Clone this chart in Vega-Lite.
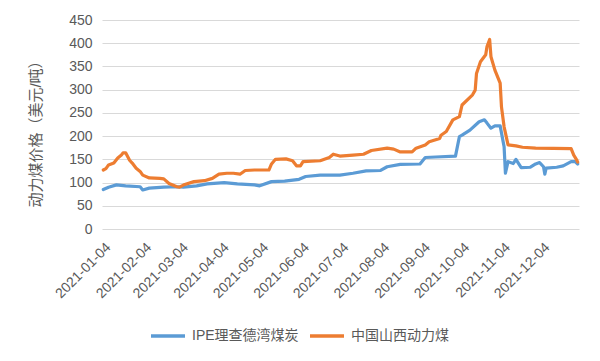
{
  "$schema": "https://vega.github.io/schema/vega-lite/v6.json",
  "width": 477,
  "height": 209,
  "autosize": {"type": "none"},
  "padding": {"left": 102, "top": 20, "right": 21, "bottom": 132},
  "background": "white",
  "config": {"view": {"stroke": null}, "font": "Liberation Sans, Noto Sans CJK SC"},
  "data": {"values": [
    {"date": "2021-01-04", "series": "IPE理查德湾煤炭", "price": 85},
    {"date": "2021-01-08", "series": "IPE理查德湾煤炭", "price": 90},
    {"date": "2021-01-14", "series": "IPE理查德湾煤炭", "price": 95},
    {"date": "2021-01-21", "series": "IPE理查德湾煤炭", "price": 93},
    {"date": "2021-02-01", "series": "IPE理查德湾煤炭", "price": 91},
    {"date": "2021-02-03", "series": "IPE理查德湾煤炭", "price": 84},
    {"date": "2021-02-08", "series": "IPE理查德湾煤炭", "price": 88},
    {"date": "2021-02-19", "series": "IPE理查德湾煤炭", "price": 90},
    {"date": "2021-03-01", "series": "IPE理查德湾煤炭", "price": 91},
    {"date": "2021-03-06", "series": "IPE理查德湾煤炭", "price": 90},
    {"date": "2021-03-16", "series": "IPE理查德湾煤炭", "price": 93},
    {"date": "2021-03-24", "series": "IPE理查德湾煤炭", "price": 97},
    {"date": "2021-04-06", "series": "IPE理查德湾煤炭", "price": 100},
    {"date": "2021-04-16", "series": "IPE理查德湾煤炭", "price": 97},
    {"date": "2021-04-29", "series": "IPE理查德湾煤炭", "price": 95},
    {"date": "2021-05-03", "series": "IPE理查德湾煤炭", "price": 93},
    {"date": "2021-05-12", "series": "IPE理查德湾煤炭", "price": 102},
    {"date": "2021-05-22", "series": "IPE理查德湾煤炭", "price": 103},
    {"date": "2021-06-02", "series": "IPE理查德湾煤炭", "price": 107},
    {"date": "2021-06-07", "series": "IPE理查德湾煤炭", "price": 113},
    {"date": "2021-06-18", "series": "IPE理查德湾煤炭", "price": 116},
    {"date": "2021-07-03", "series": "IPE理查德湾煤炭", "price": 116},
    {"date": "2021-07-13", "series": "IPE理查德湾煤炭", "price": 120},
    {"date": "2021-07-23", "series": "IPE理查德湾煤炭", "price": 125},
    {"date": "2021-08-03", "series": "IPE理查德湾煤炭", "price": 126},
    {"date": "2021-08-08", "series": "IPE理查德湾煤炭", "price": 134},
    {"date": "2021-08-18", "series": "IPE理查德湾煤炭", "price": 139},
    {"date": "2021-09-02", "series": "IPE理查德湾煤炭", "price": 140},
    {"date": "2021-09-06", "series": "IPE理查德湾煤炭", "price": 154},
    {"date": "2021-09-14", "series": "IPE理查德湾煤炭", "price": 155},
    {"date": "2021-09-29", "series": "IPE理查德湾煤炭", "price": 157},
    {"date": "2021-10-02", "series": "IPE理查德湾煤炭", "price": 199},
    {"date": "2021-10-04", "series": "IPE理查德湾煤炭", "price": 202},
    {"date": "2021-10-10", "series": "IPE理查德湾煤炭", "price": 213},
    {"date": "2021-10-17", "series": "IPE理查德湾煤炭", "price": 231},
    {"date": "2021-10-21", "series": "IPE理查德湾煤炭", "price": 235},
    {"date": "2021-10-23", "series": "IPE理查德湾煤炭", "price": 228},
    {"date": "2021-10-26", "series": "IPE理查德湾煤炭", "price": 217},
    {"date": "2021-10-29", "series": "IPE理查德湾煤炭", "price": 222},
    {"date": "2021-11-02", "series": "IPE理查德湾煤炭", "price": 222},
    {"date": "2021-11-05", "series": "IPE理查德湾煤炭", "price": 177},
    {"date": "2021-11-06", "series": "IPE理查德湾煤炭", "price": 120},
    {"date": "2021-11-08", "series": "IPE理查德湾煤炭", "price": 145},
    {"date": "2021-11-12", "series": "IPE理查德湾煤炭", "price": 141},
    {"date": "2021-11-14", "series": "IPE理查德湾煤炭", "price": 150},
    {"date": "2021-11-18", "series": "IPE理查德湾煤炭", "price": 132},
    {"date": "2021-11-25", "series": "IPE理查德湾煤炭", "price": 133},
    {"date": "2021-11-29", "series": "IPE理查德湾煤炭", "price": 140},
    {"date": "2021-12-02", "series": "IPE理查德湾煤炭", "price": 143},
    {"date": "2021-12-05", "series": "IPE理查德湾煤炭", "price": 134},
    {"date": "2021-12-06", "series": "IPE理查德湾煤炭", "price": 118},
    {"date": "2021-12-07", "series": "IPE理查德湾煤炭", "price": 131},
    {"date": "2021-12-15", "series": "IPE理查德湾煤炭", "price": 133},
    {"date": "2021-12-20", "series": "IPE理查德湾煤炭", "price": 136},
    {"date": "2021-12-26", "series": "IPE理查德湾煤炭", "price": 145},
    {"date": "2021-12-29", "series": "IPE理查德湾煤炭", "price": 145},
    {"date": "2021-12-31", "series": "IPE理查德湾煤炭", "price": 140},
    {"date": "2021-01-04", "series": "中国山西动力煤", "price": 127},
    {"date": "2021-01-06", "series": "中国山西动力煤", "price": 130},
    {"date": "2021-01-08", "series": "中国山西动力煤", "price": 138},
    {"date": "2021-01-12", "series": "中国山西动力煤", "price": 142},
    {"date": "2021-01-15", "series": "中国山西动力煤", "price": 153},
    {"date": "2021-01-18", "series": "中国山西动力煤", "price": 160},
    {"date": "2021-01-19", "series": "中国山西动力煤", "price": 164},
    {"date": "2021-01-21", "series": "中国山西动力煤", "price": 164},
    {"date": "2021-01-24", "series": "中国山西动力煤", "price": 148},
    {"date": "2021-01-26", "series": "中国山西动力煤", "price": 142},
    {"date": "2021-01-29", "series": "中国山西动力煤", "price": 131},
    {"date": "2021-02-01", "series": "中国山西动力煤", "price": 124},
    {"date": "2021-02-03", "series": "中国山西动力煤", "price": 116},
    {"date": "2021-02-08", "series": "中国山西动力煤", "price": 110},
    {"date": "2021-02-16", "series": "中国山西动力煤", "price": 109},
    {"date": "2021-02-19", "series": "中国山西动力煤", "price": 108},
    {"date": "2021-02-23", "series": "中国山西动力煤", "price": 98},
    {"date": "2021-03-01", "series": "中国山西动力煤", "price": 91},
    {"date": "2021-03-03", "series": "中国山西动力煤", "price": 90},
    {"date": "2021-03-07", "series": "中国山西动力煤", "price": 96},
    {"date": "2021-03-14", "series": "中国山西动力煤", "price": 102},
    {"date": "2021-03-22", "series": "中国山西动力煤", "price": 104},
    {"date": "2021-03-28", "series": "中国山西动力煤", "price": 109},
    {"date": "2021-04-02", "series": "中国山西动力煤", "price": 118},
    {"date": "2021-04-08", "series": "中国山西动力煤", "price": 120},
    {"date": "2021-04-13", "series": "中国山西动力煤", "price": 120},
    {"date": "2021-04-18", "series": "中国山西动力煤", "price": 118},
    {"date": "2021-04-22", "series": "中国山西动力煤", "price": 126},
    {"date": "2021-04-29", "series": "中国山西动力煤", "price": 127},
    {"date": "2021-05-10", "series": "中国山西动力煤", "price": 127},
    {"date": "2021-05-12", "series": "中国山西动力煤", "price": 140},
    {"date": "2021-05-15", "series": "中国山西动力煤", "price": 150},
    {"date": "2021-05-23", "series": "中国山西动力煤", "price": 151},
    {"date": "2021-05-28", "series": "中国山西动力煤", "price": 147},
    {"date": "2021-05-31", "series": "中国山西动力煤", "price": 136},
    {"date": "2021-06-03", "series": "中国山西动力煤", "price": 136},
    {"date": "2021-06-05", "series": "中国山西动力煤", "price": 145},
    {"date": "2021-06-18", "series": "中国山西动力煤", "price": 147},
    {"date": "2021-06-25", "series": "中国山西动力煤", "price": 154},
    {"date": "2021-06-28", "series": "中国山西动力煤", "price": 161},
    {"date": "2021-07-03", "series": "中国山西动力煤", "price": 157},
    {"date": "2021-07-13", "series": "中国山西动力煤", "price": 159},
    {"date": "2021-07-21", "series": "中国山西动力煤", "price": 161},
    {"date": "2021-07-27", "series": "中国山西动力煤", "price": 169},
    {"date": "2021-08-08", "series": "中国山西动力煤", "price": 174},
    {"date": "2021-08-13", "series": "中国山西动力煤", "price": 172},
    {"date": "2021-08-18", "series": "中国山西动力煤", "price": 166},
    {"date": "2021-08-27", "series": "中国山西动力煤", "price": 166},
    {"date": "2021-08-30", "series": "中国山西动力煤", "price": 174},
    {"date": "2021-09-06", "series": "中国山西动力煤", "price": 181},
    {"date": "2021-09-09", "series": "中国山西动力煤", "price": 188},
    {"date": "2021-09-17", "series": "中国山西动力煤", "price": 195},
    {"date": "2021-09-18", "series": "中国山西动力煤", "price": 202},
    {"date": "2021-09-22", "series": "中国山西动力煤", "price": 210},
    {"date": "2021-09-27", "series": "中国山西动力煤", "price": 235},
    {"date": "2021-10-02", "series": "中国山西动力煤", "price": 242},
    {"date": "2021-10-04", "series": "中国山西动力煤", "price": 267},
    {"date": "2021-10-12", "series": "中国山西动力煤", "price": 289},
    {"date": "2021-10-14", "series": "中国山西动力煤", "price": 299},
    {"date": "2021-10-15", "series": "中国山西动力煤", "price": 335},
    {"date": "2021-10-18", "series": "中国山西动力煤", "price": 360},
    {"date": "2021-10-22", "series": "中国山西动力煤", "price": 375},
    {"date": "2021-10-23", "series": "中国山西动力煤", "price": 393},
    {"date": "2021-10-25", "series": "中国山西动力煤", "price": 408},
    {"date": "2021-10-26", "series": "中国山西动力煤", "price": 371},
    {"date": "2021-10-29", "series": "中国山西动力煤", "price": 342},
    {"date": "2021-11-02", "series": "中国山西动力煤", "price": 314},
    {"date": "2021-11-03", "series": "中国山西动力煤", "price": 263},
    {"date": "2021-11-05", "series": "中国山西动力煤", "price": 220},
    {"date": "2021-11-08", "series": "中国山西动力煤", "price": 181},
    {"date": "2021-11-14", "series": "中国山西动力煤", "price": 179},
    {"date": "2021-11-19", "series": "中国山西动力煤", "price": 176},
    {"date": "2021-11-29", "series": "中国山西动力煤", "price": 174},
    {"date": "2021-12-26", "series": "中国山西动力煤", "price": 173},
    {"date": "2021-12-28", "series": "中国山西动力煤", "price": 159},
    {"date": "2021-12-30", "series": "中国山西动力煤", "price": 150},
    {"date": "2021-12-31", "series": "中国山西动力煤", "price": 144}
  ]},
  "mark": {"type": "line", "strokeWidth": 3.2, "strokeJoin": "round", "strokeCap": "round"},
  "encoding": {
    "x": {
      "field": "date",
      "type": "temporal",
      "timeUnit": "utcyearmonthdate",
      "scale": {"domain": [{"year": 2021, "month": 1, "date": 3, "utc": true}, {"year": 2022, "month": 1, "date": 1, "utc": true}]},
      "axis": {
        "title": null,
        "values": [
          {"year": 2021, "month": 1, "date": 4, "utc": true},
          {"year": 2021, "month": 2, "date": 4, "utc": true},
          {"year": 2021, "month": 3, "date": 4, "utc": true},
          {"year": 2021, "month": 4, "date": 4, "utc": true},
          {"year": 2021, "month": 5, "date": 4, "utc": true},
          {"year": 2021, "month": 6, "date": 4, "utc": true},
          {"year": 2021, "month": 7, "date": 4, "utc": true},
          {"year": 2021, "month": 8, "date": 4, "utc": true},
          {"year": 2021, "month": 9, "date": 4, "utc": true},
          {"year": 2021, "month": 10, "date": 4, "utc": true},
          {"year": 2021, "month": 11, "date": 4, "utc": true},
          {"year": 2021, "month": 12, "date": 4, "utc": true}
        ],
        "format": "%Y-%m-%d",
        "labelAngle": -45,
        "labelAlign": "right",
        "labelBaseline": "top",
        "labelPadding": 11,
        "labelFontSize": 14,
        "labelColor": "#595959",
        "domain": false,
        "ticks": false,
        "grid": false,
        "labelOverlap": false
      }
    },
    "y": {
      "field": "price",
      "type": "quantitative",
      "scale": {"domain": [0, 450]},
      "axis": {
        "values": [0, 50, 100, 150, 200, 250, 300, 350, 400, 450],
        "title": "动力煤价格（美元/吨）",
        "grid": true,
        "gridColor": "#d9d9d9",
        "domain": false,
        "ticks": false,
        "labelPadding": 10,
        "labelFontSize": 14,
        "labelColor": "#595959",
        "titleFontSize": 15,
        "titleColor": "#595959",
        "titleFontWeight": "normal",
        "titleX": -67,
        "titleY": 110,
        "titleAngle": -90,
        "titleAlign": "center",
        "titleBaseline": "middle"
      }
    },
    "color": {
      "field": "series",
      "type": "nominal",
      "scale": {"domain": ["IPE理查德湾煤炭", "中国山西动力煤"], "range": ["#5B9BD5", "#ED7D31"]},
      "legend": {
        "title": null,
        "orient": "none",
        "legendX": 47,
        "legendY": 297,
        "direction": "horizontal",
        "symbolType": "stroke",
        "symbolSize": 1156,
        "symbolStrokeWidth": 3.5,
        "labelFontSize": 14,
        "labelColor": "#595959",
        "labelLimit": 0,
        "columnPadding": 4,
        "labelOffset": 5
      }
    }
  }
}
